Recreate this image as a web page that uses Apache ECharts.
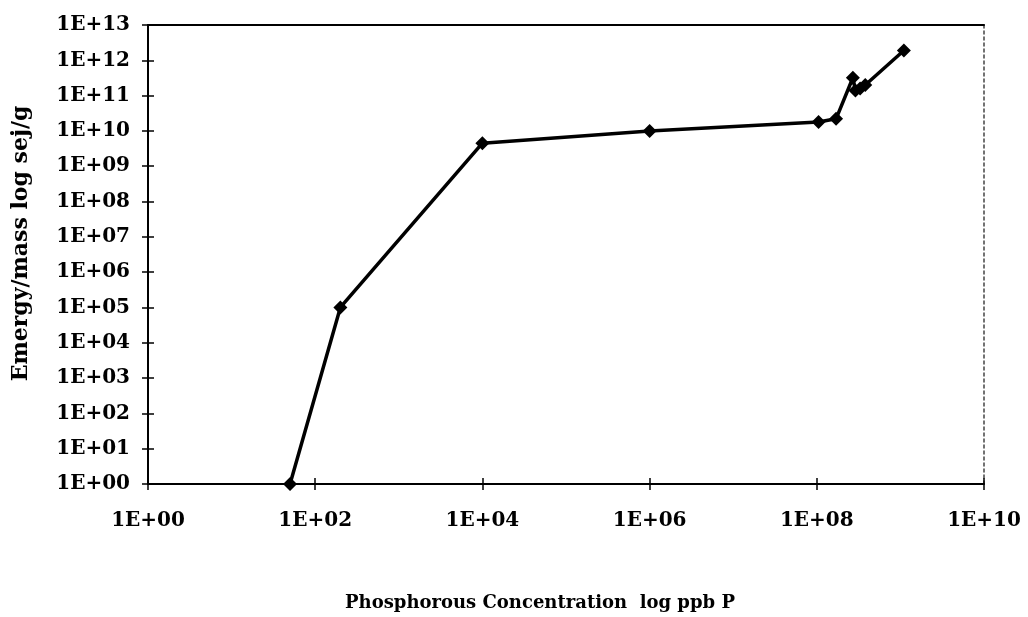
<!DOCTYPE html>
<html>
<head>
<meta charset="utf-8">
<script src="https://cdn.jsdelivr.net/npm/echarts@6/dist/echarts.min.js"></script>
<style>
  html, body { margin: 0; padding: 0; background: #fff; }
  #chart { width: 1028px; height: 617px; }
</style>
</head>
<body>
<div id="chart"></div>
<script>
// Phosphorous concentration (ppb P) and emergy per mass (sej/g)
const phosphorus = [50, 200, 1e4, 1e6, 1.05e8, 1.7e8, 2.7e8, 2.9e8, 3.3e8, 3.8e8, 1.1e9];
const emergy     = [1, 1e5, 4.5e9, 1e10, 1.8e10, 2.2e10, 3.2e11, 1.4e11, 1.6e11, 2e11, 1.9e12];

const xTitle = 'Phosphorous Concentration  log ppb P';
const yTitle = 'Emergy/mass log sej/g';

const FONT = '"DejaVu Serif", "Liberation Serif", serif';

function sciLabel(v) {
  const e = Math.round(Math.log10(v));
  return '1E+' + String(e).padStart(2, '0');
}

const points = phosphorus.map((p, i) => [p, emergy[i]]);

const labelStyle = { fontFamily: FONT, fontWeight: 'bold', fontSize: 20, color: '#000' };

// shared scale settings: one tick per power of 100 on x, per power of 10 on y
const xScale = { type: 'log', logBase: 100, min: 1, max: 1e10, interval: 1 };
const yScale = { type: 'log', logBase: 10, min: 1, max: 1e13, interval: 1 };

// tick marks that cross the axis line: an extra axis shifted inward by half a tick
const crossTick = { show: true, inside: false, length: 12, lineStyle: { color: '#000', width: 1.5 } };

const chart = echarts.init(document.getElementById('chart'), null, { renderer: 'canvas' });

chart.setOption({
  backgroundColor: '#fff',
  animation: false,
  grid: { left: 148, right: 44, top: 25, bottom: 133, containLabel: false },
  xAxis: [
    Object.assign({}, xScale, {
      name: xTitle, nameLocation: 'middle', nameGap: 110,
      nameTextStyle: { fontFamily: FONT, fontWeight: 'bold', fontSize: 18, color: '#000', padding: [0, 52, 0, 0] },
      axisLine: { show: true, onZero: false, lineStyle: { color: '#000', width: 2 } },
      axisTick: { show: false },
      axisLabel: Object.assign({ formatter: sciLabel, margin: 27, showMinLabel: true, showMaxLabel: true }, labelStyle),
      splitLine: { show: false },
      minorTick: { show: false }
    }),
    Object.assign({}, xScale, {
      position: 'bottom', offset: -6,
      axisLine: { show: false, onZero: false },
      axisTick: crossTick,
      axisLabel: { show: false },
      splitLine: { show: false }
    }),
    Object.assign({}, xScale, {
      // top frame
      position: 'top',
      axisLine: { show: true, onZero: false, lineStyle: { color: '#000', width: 2 } },
      axisTick: { show: false },
      axisLabel: { show: false },
      splitLine: { show: false }
    })
  ],
  yAxis: [
    Object.assign({}, yScale, {
      name: yTitle, nameLocation: 'middle', nameGap: 116, nameRotate: 90,
      nameTextStyle: { fontFamily: FONT, fontWeight: 'bold', fontSize: 22, color: '#000', padding: [0, 0, 0, 22] },
      axisLine: { show: true, onZero: false, lineStyle: { color: '#000', width: 2 } },
      axisTick: { show: false },
      axisLabel: Object.assign({ formatter: sciLabel, margin: 18, showMinLabel: true, showMaxLabel: true }, labelStyle),
      splitLine: { show: false },
      minorTick: { show: false }
    }),
    Object.assign({}, yScale, {
      position: 'left', offset: -6,
      axisLine: { show: false, onZero: false },
      axisTick: crossTick,
      axisLabel: { show: false },
      splitLine: { show: false }
    }),
    Object.assign({}, yScale, {
      // right frame, dashed
      position: 'right', offset: 0,
      axisLine: { show: true, onZero: false, lineStyle: { color: '#444', width: 1.5, type: [3, 3] } },
      axisTick: { show: false },
      axisLabel: { show: false },
      splitLine: { show: false }
    })
  ],
  series: [
    {
      type: 'line',
      xAxisIndex: 0, yAxisIndex: 0,
      data: points,
      symbol: 'diamond',
      symbolSize: 14,
      lineStyle: { color: '#000', width: 3.5 },
      itemStyle: { color: '#000' },
      clip: false
    }
  ]
});
</script>
</body>
</html>
